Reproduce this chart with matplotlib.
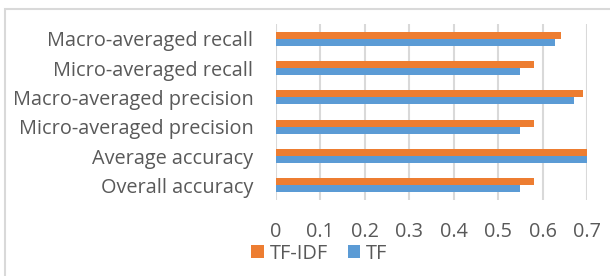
import matplotlib.pyplot as plt
from matplotlib.patches import Rectangle
import numpy as np

# categories listed bottom to top (as drawn)
categories = ["Overall accuracy", "Average accuracy", "Micro-averaged precision",
              "Macro-averaged precision", "Micro-averaged recall", "Macro-averaged recall"]
tf_vals = [0.549, 0.700, 0.549, 0.670, 0.549, 0.628]
tfidf_vals = [0.579, 0.702, 0.579, 0.689, 0.579, 0.640]
x_ticks = [0, 0.1, 0.2, 0.3, 0.4, 0.5, 0.6, 0.7]

plt.rcParams['font.family'] = ['Open Sans', 'DejaVu Sans']
text_color = "#595959"
orange = "#ED7D31"
blue = "#5B9BD5"
fs = 14.3

fig = plt.figure(figsize=(6.10, 2.76), dpi=100)
ax = fig.add_axes([0.452, 0.275, 0.511, 0.638])

y = np.arange(len(categories))
h = 0.24
ax.barh(y + h / 2, tfidf_vals, height=h, color=orange, label="TF-IDF", zorder=3)
ax.barh(y - h / 2, tf_vals, height=h, color=blue, label="TF", zorder=3)

ax.set_xlim(0, 0.7)
ax.set_ylim(-0.5, len(categories) - 0.5)
ax.set_xticks(x_ticks)
ax.set_xticklabels([f"{t:g}" for t in x_ticks])
ax.set_yticks(y)
ax.set_yticklabels(categories)
ax.tick_params(axis="both", length=0, labelsize=fs, colors=text_color)
ax.tick_params(axis="y", pad=16)
ax.tick_params(axis="x", pad=16)
ax.xaxis.grid(True, color="#D9D9D9", linewidth=1.5, zorder=0)
for s in ax.spines.values():
    s.set_visible(False)

leg = fig.legend(loc="center left", bbox_to_anchor=(0.412, 0.080), ncol=2, frameon=False,
                 fontsize=fs, handlelength=0.62, handleheight=0.62, handletextpad=0.3,
                 columnspacing=1.0, borderaxespad=0, borderpad=0)
for t in leg.get_texts():
    t.set_color(text_color)

# outer chart border
fig.patches.append(Rectangle((5 / 610, -0.1), 1.2, 1 - 9 / 276 + 0.1, transform=fig.transFigure,
                             fill=False, edgecolor="#D9D9D9", linewidth=1.5))

fig.savefig("out.png", dpi=100)
